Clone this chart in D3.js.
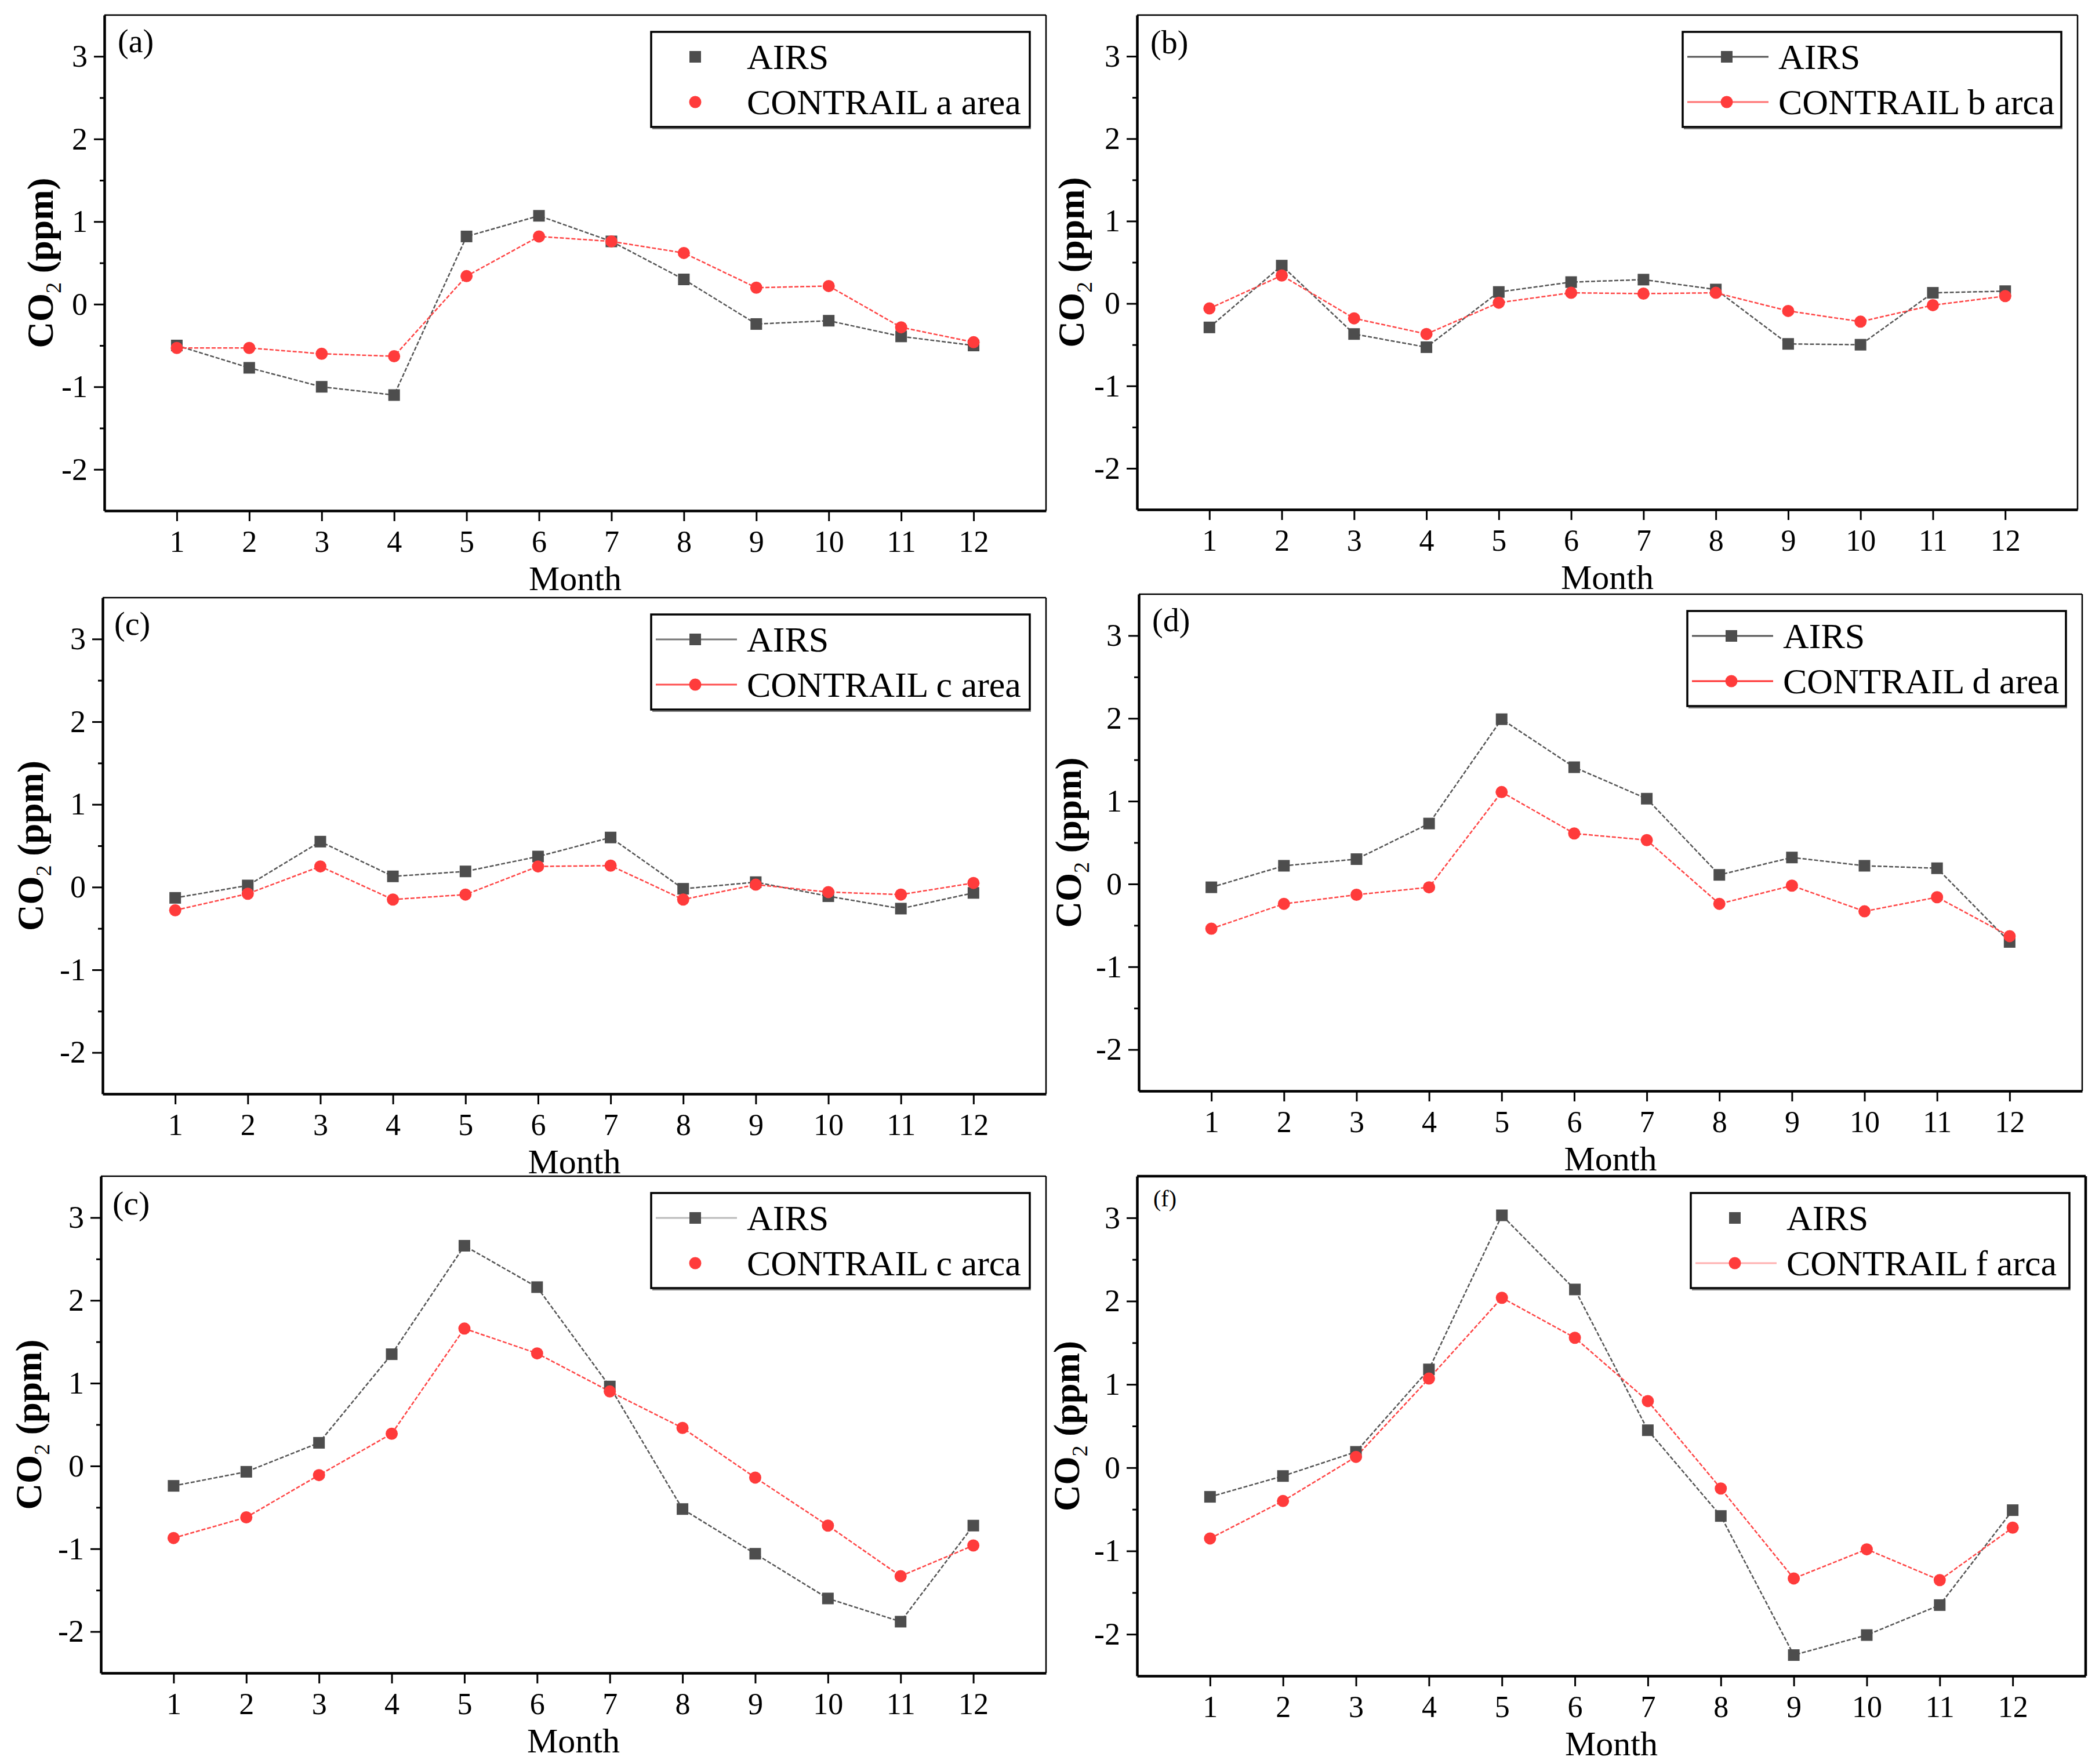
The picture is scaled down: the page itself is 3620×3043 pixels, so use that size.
<!DOCTYPE html>
<html>
<head>
<meta charset="utf-8">
<script src="https://cdn.jsdelivr.net/npm/d3@7/dist/d3.min.js"></script>
<style>
  html, body { margin: 0; padding: 0; background: #fff; }
  svg { display: block; }
  text { font-family: "Liberation Serif", "Times New Roman", "DejaVu Serif", serif; fill: #000; }
</style>
</head>
<body>
<svg id="chart" width="3620" height="3043"></svg>
<script>
// ---------------- DATA ----------------
const months = [1, 2, 3, 4, 5, 6, 7, 8, 9, 10, 11, 12];
const yTickValues = [-2, -1, 0, 1, 2, 3];
const yMinorTickValues = [-1.5, -0.5, 0.5, 1.5, 2.5];

const airsA     = [-0.50, -0.77, -1.00, -1.10, 0.82, 1.07, 0.76, 0.30, -0.24, -0.20, -0.39, -0.50];
const contrailA = [-0.53, -0.53, -0.60, -0.63, 0.34, 0.82, 0.76, 0.62, 0.20, 0.22, -0.28, -0.46];

const airsB     = [-0.29, 0.46, -0.37, -0.53, 0.14, 0.26, 0.29, 0.17, -0.49, -0.50, 0.13, 0.15];
const contrailB = [-0.06, 0.34, -0.18, -0.37, 0.01, 0.13, 0.12, 0.13, -0.09, -0.22, -0.02, 0.09];

const airsC     = [-0.13, 0.02, 0.55, 0.13, 0.19, 0.37, 0.60, -0.02, 0.06, -0.11, -0.26, -0.07];
const contrailC = [-0.28, -0.08, 0.25, -0.15, -0.09, 0.25, 0.26, -0.15, 0.03, -0.06, -0.09, 0.05];

const airsD     = [-0.04, 0.22, 0.30, 0.73, 1.99, 1.41, 1.03, 0.11, 0.32, 0.22, 0.19, -0.70];
const contrailD = [-0.54, -0.24, -0.13, -0.04, 1.11, 0.61, 0.53, -0.24, -0.02, -0.33, -0.16, -0.63];

const airsE     = [-0.24, -0.07, 0.28, 1.35, 2.66, 2.16, 0.96, -0.52, -1.06, -1.60, -1.88, -0.72];
const contrailE = [-0.87, -0.62, -0.11, 0.39, 1.66, 1.36, 0.90, 0.46, -0.14, -0.72, -1.33, -0.96];

const airsF     = [-0.35, -0.10, 0.19, 1.18, 3.03, 2.14, 0.45, -0.58, -2.25, -2.01, -1.65, -0.51];
const contrailF = [-0.85, -0.40, 0.13, 1.07, 2.04, 1.56, 0.80, -0.25, -1.33, -0.98, -1.35, -0.72];

const panelLabels = ["(a)", "(b)", "(c)", "(d)", "(c)", "(f)"];
const airsName = "AIRS";
const contrailNames = ["CONTRAIL a area", "CONTRAIL b arca", "CONTRAIL c area",
                       "CONTRAIL d area", "CONTRAIL c arca", "CONTRAIL f arca"];
const xLabel = "Month";

const airsSeries = [airsA, airsB, airsC, airsD, airsE, airsF];
const contrailSeries = [contrailA, contrailB, contrailC, contrailD, contrailE, contrailF];

// ---------------- LAYOUT / STYLE ----------------
const panels = [
  { l: 180,  r: 1804, t: 26,   b: 881,  ylab: -89,  labSize: 56, labDx: 23, labDy: 64, frame: 2.5 },
  { l: 1961, r: 3583, t: 26,   b: 879,  ylab: -92,  labSize: 56, labDx: 23, labDy: 66, frame: 2.5 },
  { l: 177,  r: 1804, t: 1031, b: 1887, ylab: -103, labSize: 56, labDx: 20, labDy: 64, frame: 2.5 },
  { l: 1964, r: 3591, t: 1025, b: 1882, ylab: -100, labSize: 56, labDx: 23, labDy: 64, frame: 2.5 },
  { l: 174,  r: 1804, t: 2029, b: 2886, ylab: -103, labSize: 58, labDx: 20, labDy: 66, frame: 2.5 },
  { l: 1961, r: 3597, t: 2029, b: 2891, ylab: -100, labSize: 40, labDx: 28, labDy: 52, frame: 4.5 }
];
const legendAirsLine     = [null, "#555555", "#777777", "#555555", "#bbbbbb", null];
const legendContrailLine = [null, "#ff7070", "#ff5050", "#ff3030", null, "#ffb0b0"];

const grayMarker = "#4d4d4d";
const redMarker = "#ff3b3b";
const grayLine = "#555555";
const redLine = "#ff4545";

const svg = d3.select("#chart");

panels.forEach((p, i) => {
  const x = d3.scaleLinear().domain([0, 13]).range([p.l, p.r]);
  const y = d3.scaleLinear().domain([-2.5, 3.5]).range([p.b, p.t]);
  const g = svg.append("g");

  // frame top & right (thin)
  g.append("line").attr("x1", p.l).attr("x2", p.r).attr("y1", p.t).attr("y2", p.t)
    .attr("stroke", "#000").attr("stroke-width", p.frame);
  g.append("line").attr("x1", p.r).attr("x2", p.r).attr("y1", p.t).attr("y2", p.b)
    .attr("stroke", "#000").attr("stroke-width", p.frame);

  // y axis major
  const yAxis = d3.axisLeft(y).tickValues(yTickValues).tickSize(18).tickPadding(11)
    .tickSizeOuter(0).tickFormat(d => String(d).replace("\u2212", "-"));
  const ya = g.append("g").attr("transform", `translate(${p.l},0)`).call(yAxis);
  ya.select(".domain").attr("stroke-width", 4.5);
  ya.selectAll(".tick line").attr("stroke-width", 3);
  ya.selectAll(".tick text").attr("font-size", 54)
    .style("font-family", "'Liberation Serif', 'Times New Roman', serif");
  // y minor
  const yMinor = d3.axisLeft(y).tickValues(yMinorTickValues).tickSize(8).tickFormat("").tickSizeOuter(0);
  const ym = g.append("g").attr("transform", `translate(${p.l},0)`).call(yMinor);
  ym.select(".domain").remove();
  ym.selectAll(".tick line").attr("stroke-width", 3);

  // x axis
  const xAxis = d3.axisBottom(x).tickValues(months).tickSize(18).tickPadding(16)
    .tickSizeOuter(0).tickFormat(d3.format("d"));
  const xa = g.append("g").attr("transform", `translate(0,${p.b})`).call(xAxis);
  xa.select(".domain").attr("stroke-width", 4.5);
  xa.selectAll(".tick line").attr("stroke-width", 3);
  xa.selectAll(".tick text").attr("font-size", 52)
    .style("font-family", "'Liberation Serif', 'Times New Roman', serif");

  // x label
  g.append("text").attr("x", (p.l + p.r) / 2).attr("y", p.b + 137)
    .attr("text-anchor", "middle").attr("font-size", 60).text(xLabel);

  // y label
  const cy = (p.t + p.b) / 2;
  const yl = g.append("text")
    .attr("transform", `translate(${p.l + p.ylab},${cy}) rotate(-90)`)
    .attr("text-anchor", "middle").attr("font-size", 63).attr("font-weight", "bold");
  yl.append("tspan").text("CO");
  yl.append("tspan").attr("dy", 14).attr("font-size", 38).attr("font-weight", "normal").text("2");
  yl.append("tspan").attr("dy", -14).text(" (ppm)");

  // panel label
  g.append("text").attr("x", p.l + p.labDx).attr("y", p.t + p.labDy)
    .attr("font-size", p.labSize).text(panelLabels[i]);

  // data
  const airs = months.map((m, k) => ({ m, v: airsSeries[i][k] }));
  const con = months.map((m, k) => ({ m, v: contrailSeries[i][k] }));
  const line = d3.line().x(d => x(d.m)).y(d => y(d.v));

  g.append("path").datum(airs).attr("d", line).attr("fill", "none")
    .attr("stroke", grayLine).attr("stroke-width", 2.5).attr("stroke-dasharray", "7,3");
  g.append("path").datum(con).attr("d", line).attr("fill", "none")
    .attr("stroke", redLine).attr("stroke-width", 2.5).attr("stroke-dasharray", "7,3");

  g.selectAll(".sq").data(airs).enter().append("rect")
    .attr("x", d => x(d.m) - 10).attr("y", d => y(d.v) - 10)
    .attr("width", 20).attr("height", 20).attr("fill", grayMarker);
  g.selectAll(".ci").data(con).enter().append("circle")
    .attr("cx", d => x(d.m)).attr("cy", d => y(d.v)).attr("r", 10.5).attr("fill", redMarker);

  // legend
  const lw = 653, lh = 164;
  const lx = p.r - 28 - lw, ly = p.t + 29;
  const lg = g.append("g").attr("transform", `translate(${lx},${ly})`);
  lg.append("rect").attr("x", 0).attr("y", 0).attr("width", lw).attr("height", lh)
    .attr("fill", "#fff").attr("stroke", "#000").attr("stroke-width", 3.5);
  lg.append("line").attr("x1", 2).attr("x2", lw + 2).attr("y1", lh + 3).attr("y2", lh + 3)
    .attr("stroke", "#777").attr("stroke-width", 2);

  const rows = [
    { y: 43, name: airsName, lineColor: legendAirsLine[i], shape: "sq" },
    { y: 121, name: contrailNames[i], lineColor: legendContrailLine[i], shape: "ci" }
  ];
  rows.forEach(r => {
    if (r.lineColor) {
      lg.append("line").attr("x1", 8).attr("x2", 148).attr("y1", r.y).attr("y2", r.y)
        .attr("stroke", r.lineColor).attr("stroke-width", 3);
    }
    if (r.shape === "sq") {
      lg.append("rect").attr("x", 76 - 10).attr("y", r.y - 10).attr("width", 20).attr("height", 20)
        .attr("fill", grayMarker);
    } else {
      lg.append("circle").attr("cx", 76).attr("cy", r.y).attr("r", 10.5).attr("fill", redMarker);
    }
    lg.append("text").attr("x", 165).attr("y", r.y + 21).attr("font-size", 62).text(r.name);
  });
});
</script>
</body>
</html>
